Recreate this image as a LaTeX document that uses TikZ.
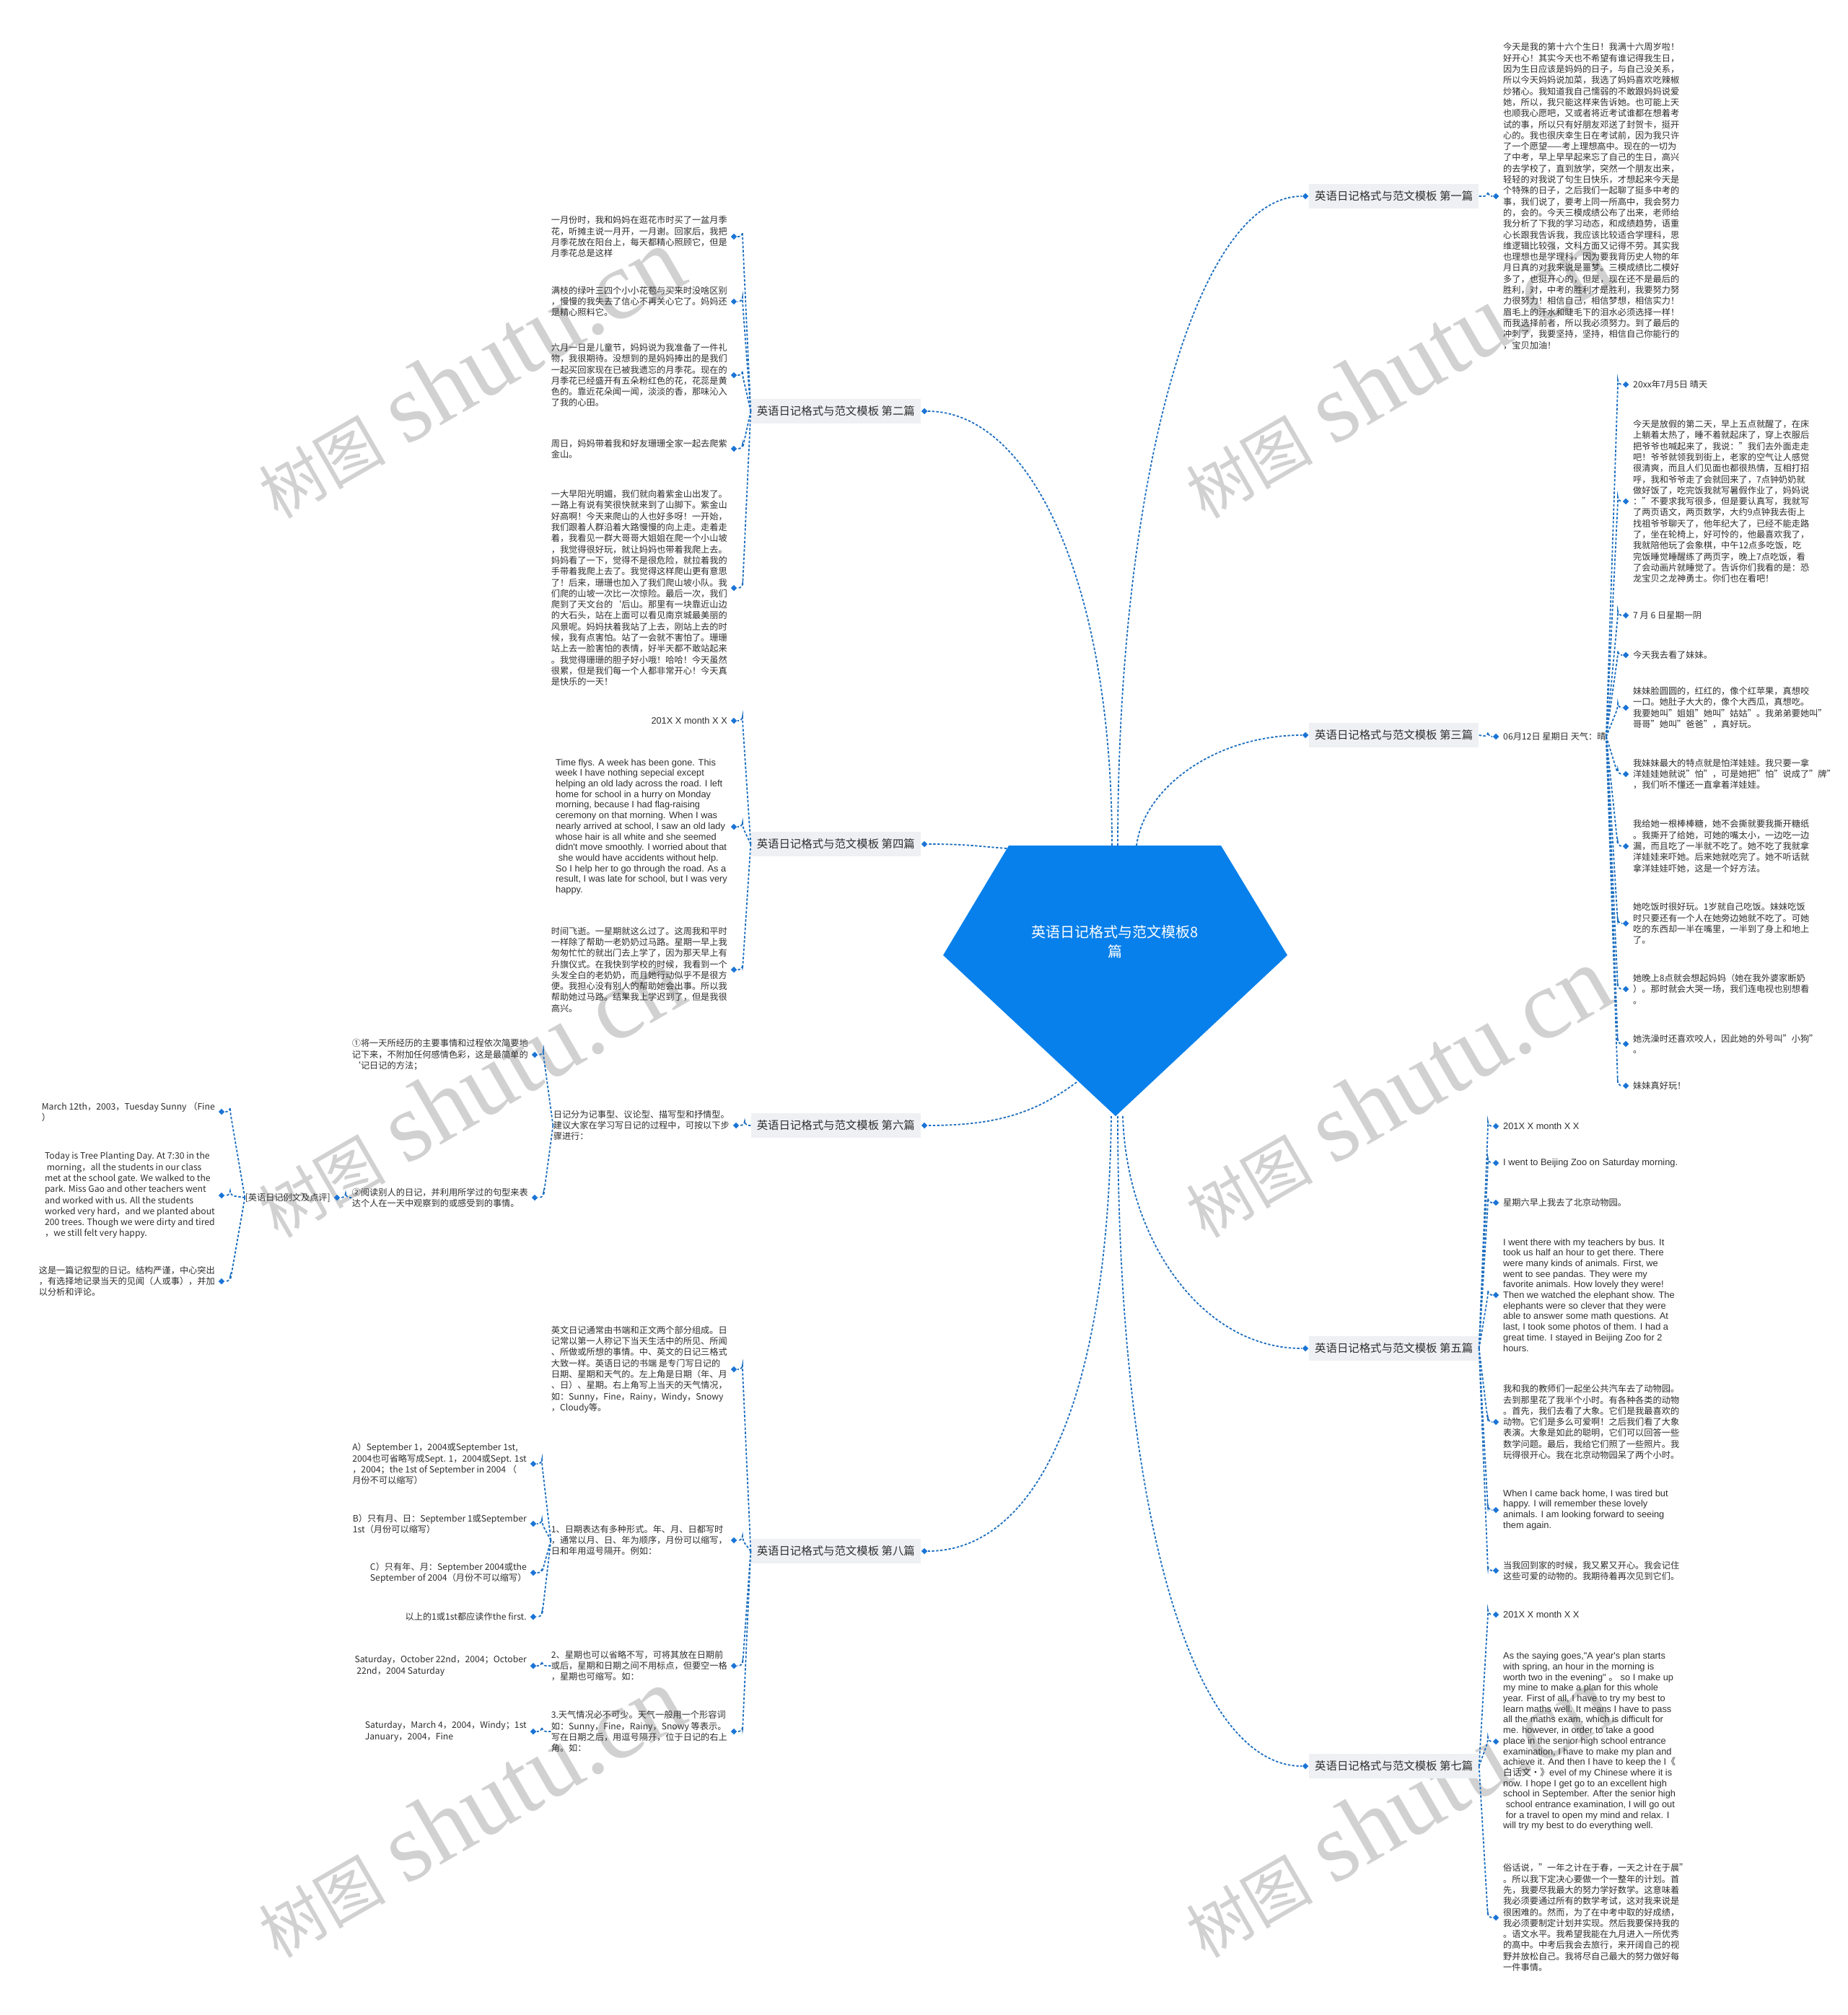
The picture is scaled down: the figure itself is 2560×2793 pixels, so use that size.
\documentclass[tikz,border=0pt]{standalone}
\usepackage{fontspec}
\setmainfont{Noto Sans CJK SC}
\newfontfamily\cjk{Noto Sans CJK SC}
\newfontfamily\en{Liberation Sans}
\newfontfamily\wmserif{Liberation Serif}
\usepackage{tikz}
\usetikzlibrary{positioning,calc,shapes.geometric}

\definecolor{hubblue}{HTML}{0880EB}
\definecolor{linkblue}{HTML}{1E6FC0}
\definecolor{dotblue}{HTML}{1A74D6}
\definecolor{tabgray}{HTML}{EEF0F3}
\definecolor{inkgray}{HTML}{2E2E2E}

\tikzset{
  wire/.style={linkblue, line width=0.9pt, dash pattern=on 1.7pt off 1.2pt},
  fork/.style={wire, rounded corners=3pt},
  bud/.style={diamond, fill=dotblue, inner sep=0pt, minimum size=4.4pt},
  chapter/.style={fill=tabgray, text=inkgray, font=\fontsize{7.7}{9}\selectfont, inner xsep=4pt, minimum height=17pt},
  leaf/.style={text=inkgray, align=left, inner sep=0pt, font=\fontsize{6.1}{7.65}\selectfont},
  eleaf/.style={leaf, font=\en\fontsize{6.4}{7.35}\selectfont},
  wmark/.style={text=black!18, rotate=30, inner sep=0pt},
}

\begin{document}
\begin{tikzpicture}[x=0.5pt,y=-0.5pt]
\fill[white] (0,0) rectangle (2560,2793);
\useasboundingbox (0,0) rectangle (2560,2793);

% watermarks
\foreach \wx in {650,1935}
  \foreach \wy in {517,1514,2512}
    \node[wmark] at (\wx,\wy) {{\fontsize{44}{44}\selectfont 树图}\hspace{14pt}{\wmserif\fontsize{68}{68}\selectfont shutu.cn}};

% centre
\fill[hubblue] (1398,1172) -- (1692,1172) -- (1784,1324) -- (1546,1547) -- (1307,1324) -- cycle;
\node[text=white, align=center, font=\fontsize{10}{13.5}\selectfont] (hub) at (1545,1305) {英语日记格式与范文模板8\\篇};
\coordinate (h1) at (1549,1172);
\coordinate (h2) at (1541,1172);
\coordinate (h3) at (1575,1172);
\coordinate (h4) at (1395,1176);
\coordinate (h5) at (1556,1547);
\coordinate (h6) at (1492,1500);
\coordinate (h7) at (1549,1547);
\coordinate (h8) at (1540,1547);

% branches
\node[bud] (p1) at (1809,272) {};
\node[chapter, right=0pt of p1] (b1) {英语日记格式与范文模板 第一篇};
\node[bud] (p2) at (1281,570) {};
\node[chapter, left=0pt of p2] (b2) {英语日记格式与范文模板 第二篇};
\node[bud] (p3) at (1809,1019) {};
\node[chapter, right=0pt of p3] (b3) {英语日记格式与范文模板 第三篇};
\node[bud] (p4) at (1281,1170) {};
\node[chapter, left=0pt of p4] (b4) {英语日记格式与范文模板 第四篇};
\node[bud] (p5) at (1809,1869) {};
\node[chapter, right=0pt of p5] (b5) {英语日记格式与范文模板 第五篇};
\node[bud] (p6) at (1281,1560) {};
\node[chapter, left=0pt of p6] (b6) {英语日记格式与范文模板 第六篇};
\node[bud] (p7) at (1809,2448) {};
\node[chapter, right=0pt of p7] (b7) {英语日记格式与范文模板 第七篇};
\node[bud] (p8) at (1281,2150) {};
\node[chapter, left=0pt of p8] (b8) {英语日记格式与范文模板 第八篇};

\draw[wire] (h1) .. controls +(0,-495) and +(-150,0) .. (p1.west);
\draw[wire] (h2) .. controls +(0,-370) and +(140,0) .. (p2.east);
\draw[wire] (h3) .. controls +(10,-80) and +(-120,0) .. (p3.west);
\draw[wire] (h4) .. controls +(-50,-4) and +(50,0) .. (p4.east);
\draw[wire] (h5) .. controls +(5,170) and +(-140,0) .. (p5.west);
\draw[wire] (h6) .. controls +(-60,45) and +(90,0) .. (p6.east);
\draw[wire] (h7) .. controls +(0,560) and +(-150,0) .. (p7.west);
\draw[wire] (h8) .. controls +(-5,420) and +(140,0) .. (p8.east);

% 第一篇
\node[bud] (d1a) at (2073,272) {};
\node[leaf, right=2.5pt of d1a] (t1a) {今天是我的第十六个生日！我满十六周岁啦！\\
好开心！其实今天也不希望有谁记得我生日，\\
因为生日应该是妈妈的日子，与自己没关系，\\
所以今天妈妈说加菜，我选了妈妈喜欢吃辣椒\\
炒猪心。我知道我自己懦弱的不敢跟妈妈说爱\\
她，所以，我只能这样来告诉她。也可能上天\\
也顺我心愿吧，又或者将近考试谁都在想着考\\
试的事，所以只有好朋友邓送了封贺卡，挺开\\
心的。我也很庆幸生日在考试前，因为我只许\\
了一个愿望——考上理想高中。现在的一切为\\
了中考，早上早早起来忘了自己的生日，高兴\\
的去学校了，直到放学，突然一个朋友出来，\\
轻轻的对我说了句生日快乐，才想起来今天是\\
个特殊的日子，之后我们一起聊了挺多中考的\\
事，我们说了，要考上同一所高中，我会努力\\
的，会的。今天三模成绩公布了出来，老师给\\
我分析了下我的学习动态，和成绩趋势，语重\\
心长跟我告诉我，我应该比较适合学理科，思\\
维逻辑比较强，文科方面又记得不劳。其实我\\
也理想也是学理科，因为要我背历史人物的年\\
月日真的对我来说是噩梦。三模成绩比二模好\\
多了，也挺开心的，但是，现在还不是最后的\\
胜利，对，中考的胜利才是胜利，我要努力努\\
力很努力！相信自己，相信梦想，相信实力！\\
眉毛上的汗水和睫毛下的泪水必须选择一样！\\
而我选择前者，所以我必须努力。到了最后的\\
冲刺了，我要坚持，坚持，相信自己你能行的\\
，宝贝加油！};
\foreach \c in {a}
  \draw[fork] (b1.east) -- ($(d1\c.center)+(-11,0)$ |- b1.east) |- (d1\c.west);

% 第二篇
\node[bud] (d2a) at (1017,328) {};
\node[leaf, left=2pt of d2a] (t2a) {一月份时，我和妈妈在逛花市时买了一盆月季\\
花，听摊主说一月开，一月谢。回家后，我把\\
月季花放在阳台上，每天都精心照顾它，但是\\
月季花总是这样};
\node[bud] (d2b) at (1017,418) {};
\node[leaf, left=2pt of d2b] (t2b) {满枝的绿叶三四个小小花苞与买来时没啥区别\\
，慢慢的我失去了信心不再关心它了。妈妈还\\
是精心照料它。};
\node[bud] (d2c) at (1017,520) {};
\node[leaf, left=2pt of d2c] (t2c) {六月一日是儿童节，妈妈说为我准备了一件礼\\
物，我很期待。没想到的是妈妈捧出的是我们\\
一起买回家现在已被我遗忘的月季花。现在的\\
月季花已经盛开有五朵粉红色的花，花蕊是黄\\
色的。靠近花朵闻一闻，淡淡的香，那味沁入\\
了我的心田。};
\node[bud] (d2d) at (1017,622) {};
\node[leaf, left=2pt of d2d] (t2d) {周日，妈妈带着我和好友珊珊全家一起去爬紫\\
金山。};
\node[bud] (d2e) at (1017,815) {};
\node[leaf, left=2pt of d2e] (t2e) {一大早阳光明媚，我们就向着紫金山出发了。\\
一路上有说有笑很快就来到了山脚下。紫金山\\
好高啊！今天来爬山的人也好多呀！一开始，\\
我们跟着人群沿着大路慢慢的向上走。走着走\\
着，我看见一群大哥哥大姐姐在爬一个小山坡\\
，我觉得很好玩，就让妈妈也带着我爬上去。\\
妈妈看了一下，觉得不是很危险，就拉着我的\\
手带着我爬上去了。我觉得这样爬山更有意思\\
了！后来，珊珊也加入了我们爬山坡小队。我\\
们爬的山坡一次比一次惊险。最后一次，我们\\
爬到了天文台的`后山。那里有一块靠近山边\\
的大石头，站在上面可以看见南京城最美丽的\\
风景呢。妈妈扶着我站了上去，刚站上去的时\\
候，我有点害怕。站了一会就不害怕了。珊珊\\
站上去一脸害怕的表情，好半天都不敢站起来\\
。我觉得珊珊的胆子好小哦！哈哈！今天虽然\\
很累，但是我们每一个人都非常开心！今天真\\
是快乐的一天！};
\foreach \c in {a,b,c,d,e}
  \draw[fork] (b2.west) -- ($(d2\c.center)+(12,0)$ |- b2.west) |- (d2\c.east);

% 第三篇
\node[bud] (d3a) at (2073,1021) {};
\node[leaf, right=2.5pt of d3a] (t3a) {06月12日 星期日 天气：晴};
\node[bud] (d3b) at (2253,533) {};
\node[leaf, right=2.5pt of d3b] (t3b) {20xx年7月5日 晴天};
\node[bud] (d3c) at (2253,695) {};
\node[leaf, right=2.5pt of d3c] (t3c) {今天是放假的第二天，早上五点就醒了，在床\\
上躺着太热了，睡不着就起床了，穿上衣服后\\
把爷爷也喊起来了，我说："我们去外面走走\\
吧！爷爷就领我到街上，老家的空气让人感觉\\
很清爽，而且人们见面也都很热情，互相打招\\
呼，我和爷爷走了会就回来了，7点钟奶奶就\\
做好饭了，吃完饭我就写暑假作业了，妈妈说\\
："不要求我写很多，但是要认真写，我就写\\
了两页语文，两页数学，大约9点钟我去街上\\
找祖爷爷聊天了，他年纪大了，已经不能走路\\
了，坐在轮椅上，好可怜的，他最喜欢我了，\\
我就陪他玩了会象棋，中午12点多吃饭，吃\\
完饭睡觉睡醒练了两页字，晚上7点吃饭，看\\
了会动画片就睡觉了。告诉你们我看的是：恐\\
龙宝贝之龙神勇士。你们也在看吧！};
\node[bud] (d3d) at (2253,853) {};
\node[leaf, right=2.5pt of d3d] (t3d) {7 月 6 日星期一阴};
\node[bud] (d3e) at (2253,908) {};
\node[leaf, right=2.5pt of d3e] (t3e) {今天我去看了妹妹。};
\node[bud] (d3f) at (2253,981) {};
\node[leaf, right=2.5pt of d3f] (t3f) {妹妹脸圆圆的，红红的，像个红苹果，真想咬\\
一口。她肚子大大的，像个大西瓜，真想吃。\\
我要她叫"姐姐"她叫"姑姑"。我弟弟要她叫"\\
哥哥"她叫"爸爸"，真好玩。};
\node[bud] (d3g) at (2253,1073) {};
\node[leaf, right=2.5pt of d3g] (t3g) {我妹妹最大的特点就是怕洋娃娃。我只要一拿\\
洋娃娃她就说"怕"，可是她把"怕"说成了"牌"\\
，我们听不懂还一直拿着洋娃娃。};
\node[bud] (d3h) at (2253,1173) {};
\node[leaf, right=2.5pt of d3h] (t3h) {我给她一根棒棒糖，她不会撕就要我撕开糖纸\\
。我撕开了给她，可她的嘴太小，一边吃一边\\
漏，而且吃了一半就不吃了。她不吃了我就拿\\
洋娃娃来吓她。后来她就吃完了。她不听话就\\
拿洋娃娃吓她，这是一个好方法。};
\node[bud] (d3i) at (2253,1280) {};
\node[leaf, right=2.5pt of d3i] (t3i) {她吃饭时很好玩。1岁就自己吃饭。妹妹吃饭\\
时只要还有一个人在她旁边她就不吃了。可她\\
吃的东西却一半在嘴里，一半到了身上和地上\\
了。};
\node[bud] (d3j) at (2253,1371) {};
\node[leaf, right=2.5pt of d3j] (t3j) {她晚上8点就会想起妈妈（她在我外婆家断奶\\
）。那时就会大哭一场，我们连电视也别想看\\
。};
\node[bud] (d3k) at (2253,1447) {};
\node[leaf, right=2.5pt of d3k] (t3k) {她洗澡时还喜欢咬人，因此她的外号叫"小狗"\\
。};
\node[bud] (d3l) at (2253,1505) {};
\node[leaf, right=2.5pt of d3l] (t3l) {妹妹真好玩！};
\foreach \c in {a}
  \draw[fork] (b3.east) -- ($(d3\c.center)+(-11,0)$ |- b3.east) |- (d3\c.west);
\foreach \c in {b,c,d,e,f,g,h,i,j,k,l}
  \draw[fork] (t3a.east) -- ($(d3\c.center)+(-11,0)$ |- t3a.east) |- (d3\c.west);

% 第四篇
\node[bud] (d4a) at (1017,999) {};
\node[eleaf, left=2pt of d4a] (t4a) {201X X month X X};
\node[bud] (d4b) at (1017,1146) {};
\node[eleaf, left=2pt of d4b] (t4b) {Time flys. A week has been gone. This\\
week I have nothing sepecial except\\
helping an old lady across the road. I left\\
home for school in a hurry on Monday\\
morning, because I had flag-raising\\
ceremony on that morning. When I was\\
nearly arrived at school, I saw an old lady\\
whose hair is all white and she seemed\\
didn't move smoothly. I worried about that\\
\ she would have accidents without help.\\
So I help her to go through the road. As a\\
result, I was late for school, but I was very\\
happy.};
\node[bud] (d4c) at (1017,1344) {};
\node[leaf, left=2pt of d4c] (t4c) {时间飞逝。一星期就这么过了。这周我和平时\\
一样除了帮助一老奶奶过马路。星期一早上我\\
匆匆忙忙的就出门去上学了，因为那天早上有\\
升旗仪式。在我快到学校的时候，我看到一个\\
头发全白的老奶奶，而且她行动似乎不是很方\\
便。我担心没有别人的帮助她会出事。所以我\\
帮助她过马路。结果我上学迟到了，但是我很\\
高兴。};
\foreach \c in {a,b,c}
  \draw[fork] (b4.west) -- ($(d4\c.center)+(12,0)$ |- b4.west) |- (d4\c.east);

% 第五篇
\node[bud] (d5a) at (2073,1561) {};
\node[eleaf, right=2.5pt of d5a] (t5a) {201X X month X X};
\node[bud] (d5b) at (2073,1612) {};
\node[eleaf, right=2.5pt of d5b] (t5b) {I went to Beijing Zoo on Saturday morning.};
\node[bud] (d5c) at (2073,1667) {};
\node[leaf, right=2.5pt of d5c] (t5c) {星期六早上我去了北京动物园。};
\node[bud] (d5d) at (2073,1795) {};
\node[eleaf, right=2.5pt of d5d] (t5d) {I went there with my teachers by bus. It\\
took us half an hour to get there. There\\
were many kinds of animals. First, we\\
went to see pandas. They were my\\
favorite animals. How lovely they were!\\
Then we watched the elephant show. The\\
elephants were so clever that they were\\
able to answer some math questions. At\\
last, I took some photos of them. I had a\\
great time. I stayed in Beijing Zoo for 2\\
hours.};
\node[bud] (d5e) at (2073,1971) {};
\node[leaf, right=2.5pt of d5e] (t5e) {我和我的教师们一起坐公共汽车去了动物园。\\
去到那里花了我半个小时。有各种各类的动物\\
。首先，我们去看了大象。它们是我最喜欢的\\
动物。它们是多么可爱啊！之后我们看了大象\\
表演。大象是如此的聪明，它们可以回答一些\\
数学问题。最后，我给它们照了一些照片。我\\
玩得很开心。我在北京动物园呆了两个小时。};
\node[bud] (d5f) at (2073,2093) {};
\node[eleaf, right=2.5pt of d5f] (t5f) {When I came back home, I was tired but\\
happy. I will remember these lovely\\
animals. I am looking forward to seeing\\
them again.};
\node[bud] (d5g) at (2073,2177) {};
\node[leaf, right=2.5pt of d5g] (t5g) {当我回到家的时候，我又累又开心。我会记住\\
这些可爱的动物的。我期待着再次见到它们。};
\foreach \c in {a,b,c,d,e,f,g}
  \draw[fork] (b5.east) -- ($(d5\c.center)+(-11,0)$ |- b5.east) |- (d5\c.west);

% 第六篇
\node[bud] (d6a) at (1020,1560) {};
\node[leaf, left=2pt of d6a] (t6a) {日记分为记事型、议论型、描写型和抒情型。\\
建议大家在学习写日记的过程中，可按以下步\\
骤进行：};
\node[bud] (d6b) at (741,1462) {};
\node[leaf, left=2pt of d6b] (t6b) {①将一天所经历的主要事情和过程依次简要地\\
记下来，不附加任何感情色彩，这是最简单的\\
`记日记的方法；};
\node[bud] (d6c) at (741,1660) {};
\node[leaf, left=2pt of d6c] (t6c) {②阅读别人的日记，并利用所学过的句型来表\\
达个人在一天中观察到的或感受到的事情。};
\node[bud] (d6d) at (467,1660) {};
\node[leaf, left=2pt of d6d] (t6d) {[英语日记例文及点评]};
\node[bud] (d6e) at (307,1541) {};
\node[leaf, left=2pt of d6e] (t6e) {March 12th，2003，Tuesday Sunny （Fine\\
）};
\node[bud] (d6f) at (307,1657) {};
\node[leaf, left=2pt of d6f] (t6f) {Today is Tree Planting Day. At 7:30 in the\\
\ morning，all the students in our class\\
met at the school gate. We walked to the\\
park. Miss Gao and other teachers went\\
and worked with us. All the students\\
worked very hard，and we planted about\\
200 trees. Though we were dirty and tired\\
，we still felt very happy.};
\node[bud] (d6g) at (307,1776) {};
\node[leaf, left=2pt of d6g] (t6g) {这是一篇记叙型的日记。结构严谨，中心突出\\
，有选择地记录当天的见闻（人或事），并加\\
以分析和评论。};
\foreach \c in {a}
  \draw[fork] (b6.west) -- ($(d6\c.center)+(12,0)$ |- b6.west) |- (d6\c.east);
\foreach \c in {b,c}
  \draw[fork] (t6a.west) -- ($(d6\c.center)+(12,0)$ |- t6a.west) |- (d6\c.east);
\foreach \c in {d}
  \draw[fork] (t6c.west) -- ($(d6\c.center)+(12,0)$ |- t6c.west) |- (d6\c.east);
\foreach \c in {e,f,g}
  \draw[fork] (t6d.west) -- ($(d6\c.center)+(12,0)$ |- t6d.west) |- (d6\c.east);

% 第七篇
\node[bud] (d7a) at (2073,2238) {};
\node[eleaf, right=2.5pt of d7a] (t7a) {201X X month X X};
\node[bud] (d7b) at (2073,2414) {};
\node[eleaf, right=2.5pt of d7b] (t7b) {As the saying goes,"A year's plan starts\\
with spring, an hour in the morning is\\
worth two in the evening" {\cjk 。} so I make up\\
my mine to make a plan for this whole\\
year. First of all, I have to try my best to\\
learn maths well. It means I have to pass\\
all the maths exam, which is difficult for\\
me. however, in order to take a good\\
place in the senior high school entrance\\
examination, I have to make my plan and\\
achieve it. And then I have to keep the I{\cjk 《}\\
{\cjk 白话文·》}evel of my Chinese where it is\\
now. I hope I get go to an excellent high\\
school in September. After the senior high\\
\ school entrance examination, I will go out\\
\ for a travel to open my mind and relax. I\\
will try my best to do everything well.};
\node[bud] (d7c) at (2073,2658) {};
\node[leaf, right=2.5pt of d7c] (t7c) {俗话说，"一年之计在于春，一天之计在于晨"\\
。所以我下定决心要做一个一整年的计划。首\\
先，我要尽我最大的努力学好数学。这意味着\\
我必须要通过所有的数学考试，这对我来说是\\
很困难的。然而，为了在中考中取的好成绩，\\
我必须要制定计划并实现。然后我要保持我的\\
。语文水平。我希望我能在九月进入一所优秀\\
的高中。中考后我会去旅行，来开阔自己的视\\
野并放松自己。我将尽自己最大的努力做好每\\
一件事情。};
\foreach \c in {a,b,c}
  \draw[fork] (b7.east) -- ($(d7\c.center)+(-11,0)$ |- b7.east) |- (d7\c.west);

% 第八篇
\node[bud] (d8a) at (1017,1898) {};
\node[leaf, left=2pt of d8a] (t8a) {英文日记通常由书端和正文两个部分组成。日\\
记常以第一人称记下当天生活中的所见、所闻\\
、所做或所想的事情。中、英文的日记三格式\\
大致一样。英语日记的书端 是专门写日记的\\
日期、星期和天气的。左上角是日期（年、月\\
、日）、星期。右上角写上当天的天气情况，\\
如：Sunny，Fine，Rainy，Windy，Snowy\\
，Cloudy等。};
\node[bud] (d8b) at (1017,2135) {};
\node[leaf, left=2pt of d8b] (t8b) {1、日期表达有多种形式。年、月、日都写时\\
，通常以月、日、年为顺序，月份可以缩写，\\
日和年用逗号隔开。例如：};
\node[bud] (d8c) at (1017,2309) {};
\node[leaf, left=2pt of d8c] (t8c) {2、星期也可以省略不写，可将其放在日期前\\
或后，星期和日期之间不用标点，但要空一格\\
，星期也可缩写。如：};
\node[bud] (d8d) at (1017,2400) {};
\node[leaf, left=2pt of d8d] (t8d) {3.天气情况必不可少。天气一般用一个形容词\\
如：Sunny，Fine，Rainy，Snowy 等表示。\\
写在日期之后，用逗号隔开，位于日记的右上\\
角。如：};
\node[bud] (d8e) at (739,2029) {};
\node[leaf, left=2pt of d8e] (t8e) {A）September 1，2004或September 1st,\\
2004也可省略写成Sept. 1，2004或Sept. 1st\\
，2004；the 1st of September in 2004 （\\
月份不可以缩写）};
\node[bud] (d8f) at (739,2112) {};
\node[leaf, left=2pt of d8f] (t8f) {B）只有月、日：September 1或September\\
1st（月份可以缩写）};
\node[bud] (d8g) at (739,2180) {};
\node[leaf, left=2pt of d8g] (t8g) {C）只有年、月：September 2004或the\\
September of 2004（月份不可以缩写）};
\node[bud] (d8h) at (739,2241) {};
\node[leaf, left=2pt of d8h] (t8h) {以上的1或1st都应读作the first.};
\node[bud] (d8i) at (739,2309) {};
\node[leaf, left=2pt of d8i] (t8i) {Saturday，October 22nd，2004；October\\
\ 22nd，2004 Saturday};
\node[bud] (d8j) at (739,2400) {};
\node[leaf, left=2pt of d8j] (t8j) {Saturday，March 4，2004，Windy；1st\\
January，2004，Fine};
\foreach \c in {a,b,c,d}
  \draw[fork] (b8.west) -- ($(d8\c.center)+(12,0)$ |- b8.west) |- (d8\c.east);
\foreach \c in {e,f,g,h}
  \draw[fork] (t8b.west) -- ($(d8\c.center)+(12,0)$ |- t8b.west) |- (d8\c.east);
\foreach \c in {i}
  \draw[fork] (t8c.west) -- ($(d8\c.center)+(12,0)$ |- t8c.west) |- (d8\c.east);
\foreach \c in {j}
  \draw[fork] (t8d.west) -- ($(d8\c.center)+(12,0)$ |- t8d.west) |- (d8\c.east);
\end{tikzpicture}
\end{document}
